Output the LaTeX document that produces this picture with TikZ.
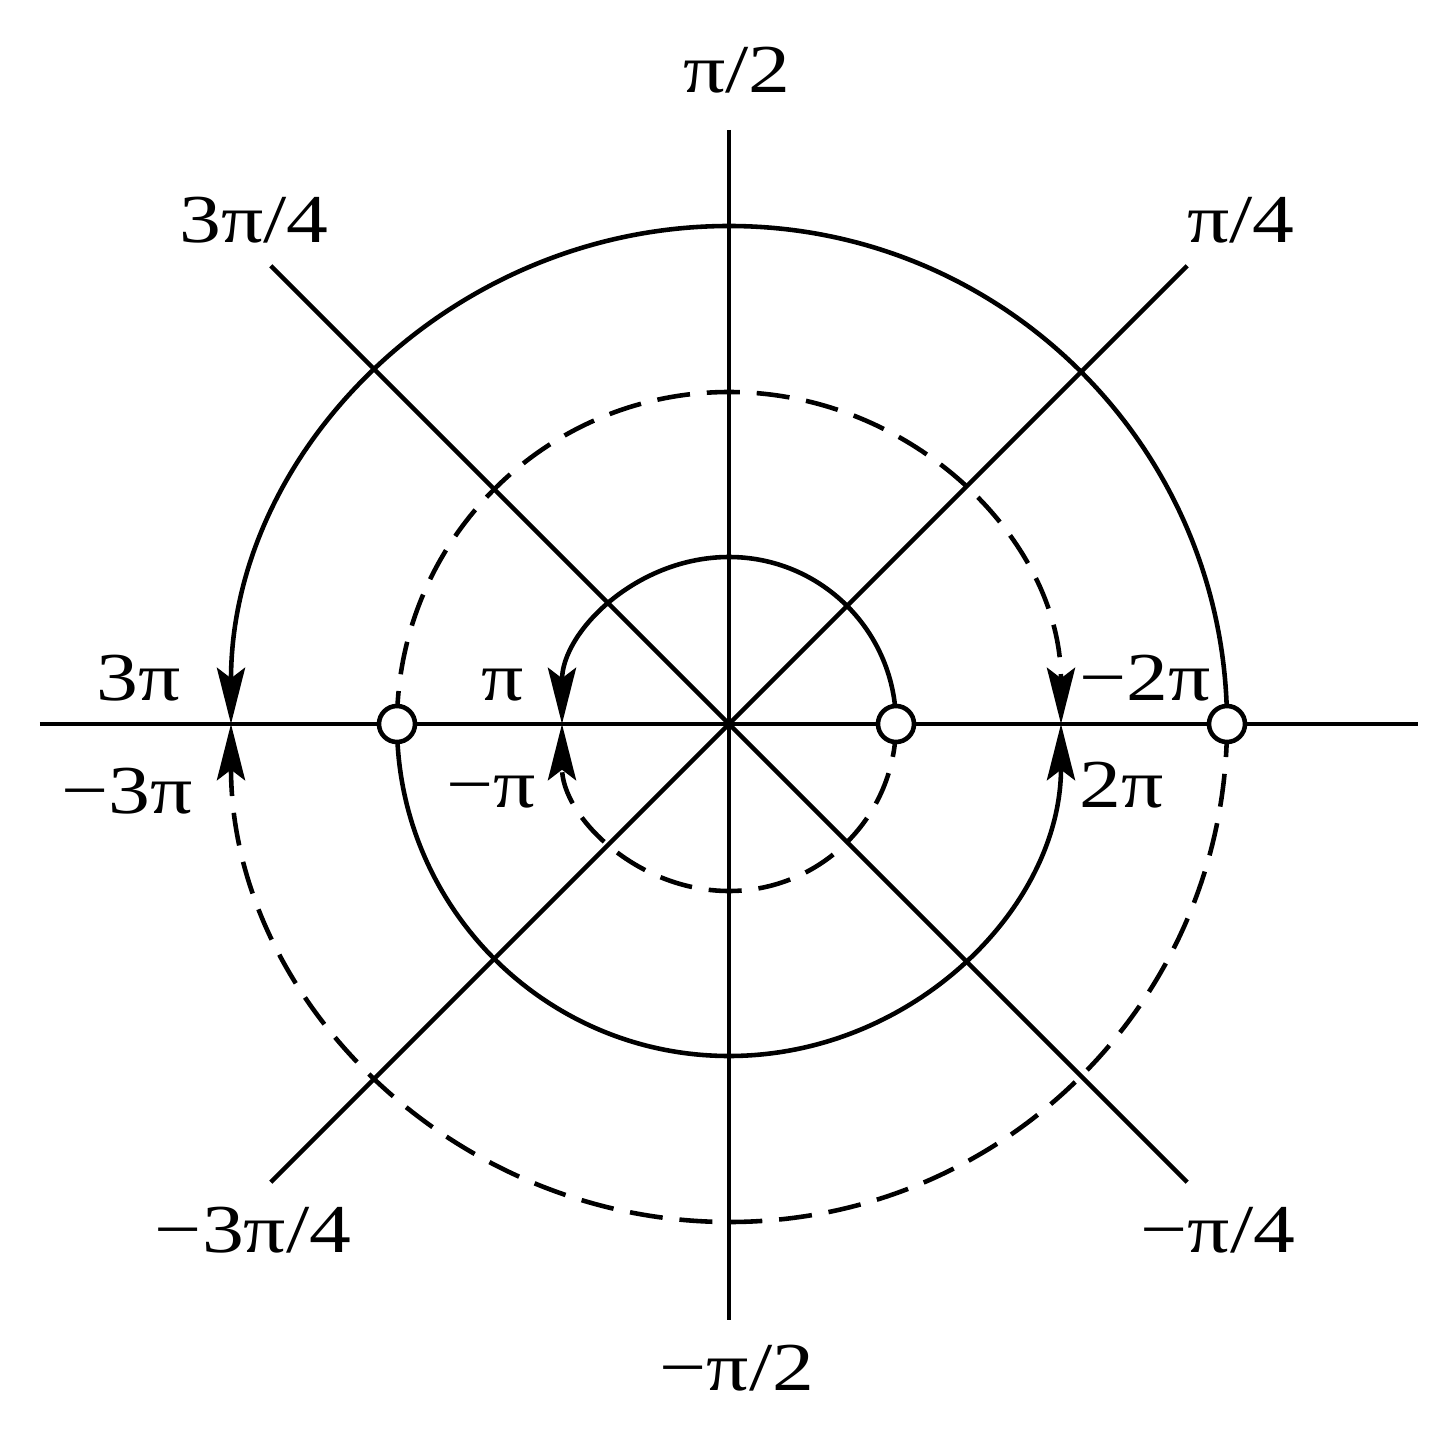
\documentclass[tikz,border=0pt]{standalone}
\usepackage{fontspec}
\setmainfont{Liberation Serif}[FakeStretch=1.22]
\usetikzlibrary{arrows.meta}

\begin{document}
\begin{tikzpicture}[x=0.01cm, y=0.01cm, line width=1.3pt,
  >={Stealth[length=16pt, width=8pt, inset=3pt]},
  lbl/.style={inner sep=0pt, anchor=base, font=\fontsize{19.5}{23}\selectfont},
  neg/.style={dash pattern=on 9.4pt off 4.8pt},
  marker/.style={circle, draw, fill=white, inner sep=0pt, minimum size=0.36cm}]

\useasboundingbox (-729,-706) rectangle (717,724);

% First, define the end points of the axes
\coordinate (O) at (0,0);
\coordinate (W) at (-689,0);
\coordinate (E) at (689,0);
\coordinate (N) at (0,594);
\coordinate (S) at (0,-596);
\coordinate (NE) at (45:648);
\coordinate (SW) at (225:648);
\coordinate (NW) at (135:648);
\coordinate (SE) at (-45:648);

% Axes and diagonals
\draw (W) -- (E);
\draw (N) -- (S);
\draw (SW) -- (NE);
\draw (NW) -- (SE);

% Start points of the three turns
\coordinate (r1) at (167,0);
\coordinate (r2) at (-332,0);
\coordinate (r3) at (498,0);

% Inner turn: solid above, dashed below
\draw[->] (r1) arc[start angle=0, end angle=180, radius=167];
\draw[->, neg] (r1) arc[start angle=0, end angle=-180, radius=167];

% Middle turn: dashed above, solid below
\draw[->, neg] (r2) arc[start angle=180, end angle=0, radius=332];
\draw[->] (r2) arc[start angle=180, end angle=360, radius=332];

% Outer turn: solid above, dashed below
\draw[->] (r3) arc[start angle=0, end angle=180, radius=498];
\draw[->, neg] (r3) arc[start angle=0, end angle=-180, radius=498];

% Open circles on the start points
\node[marker] (m1) at (r1) {};
\node[marker] (m2) at (r2) {};
\node[marker] (m3) at (r3) {};

% Labels of the directions
\node[lbl] (l90) at (8,631) {π/2};
\node[lbl] (l270) at (8,-666) {−π/2};
\node[lbl] (l135) at (-475,481) {3π/4};
\node[lbl] (l225) at (-476,-528) {−3π/4};
\node[lbl] (l45) at (512,481) {π/4};
\node[lbl] (l315) at (489,-528) {−π/4};

% Labels of the phases on the horizontal axis
\node[lbl] (p3) at (-590,24) {3π};
\node[lbl] (n3) at (-602,-89) {−3π};
\node[lbl] (p1) at (-226,24) {π};
\node[lbl] (n1) at (-238,-83) {−π};
\node[lbl] (n2) at (416,24) {−2π};
\node[lbl] (p2) at (393,-83) {2π};
\end{tikzpicture}
\end{document}
